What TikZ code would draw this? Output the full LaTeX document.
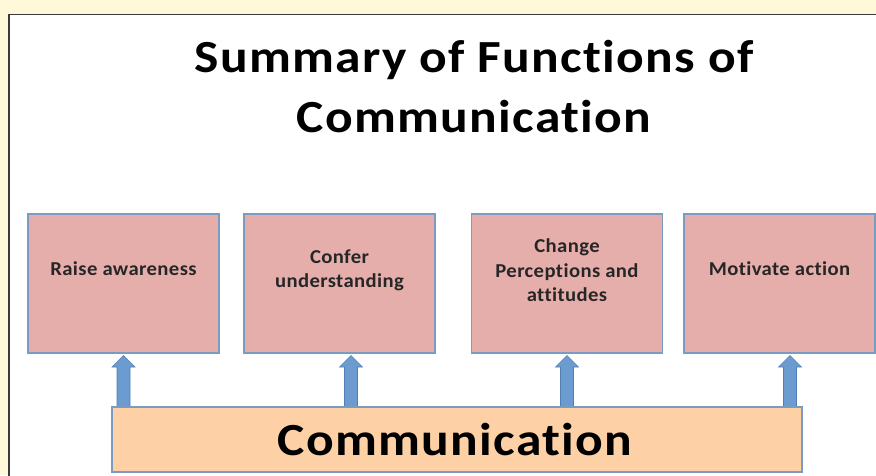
\documentclass[tikz,border=0pt]{standalone}
\usepackage{fontspec}
\setmainfont{Carlito}[Ligatures=NoCommon]
\newfontfamily\headfont{Carlito}[Ligatures=NoCommon, FakeStretch=1.12, LetterSpace=2.8]
\newfontfamily\boxfont{Carlito}[Ligatures=NoCommon, FakeStretch=1.05, LetterSpace=2]
\definecolor{pagebg}{HTML}{FFF9D9}
\definecolor{panelline}{HTML}{3A3A3A}
\definecolor{boxfill}{HTML}{E6AEAB}
\definecolor{boxline}{HTML}{7A9CC2}
\definecolor{basefill}{HTML}{FDD0A6}
\definecolor{arrowfill}{HTML}{6B9BCF}
\definecolor{arrowline}{HTML}{4F7FB5}
\definecolor{textdark}{HTML}{262626}
\tikzset{
  func/.style={draw=boxline, line width=1.2pt, fill=boxfill, minimum width=191pt,
    minimum height=139pt, inner sep=0pt},
  funclabel/.style={font=\boxfont\fontsize{19.7}{24.5}\selectfont\bfseries, text=textdark,
    align=center, anchor=center},
  headline/.style={font=\headfont\fontsize{46}{60}\selectfont\bfseries, text=black,
    anchor=base, inner sep=0pt},
  base/.style={draw=boxline, line width=1.2pt, fill=basefill, minimum width=690pt,
    minimum height=65pt, inner sep=0pt}
}
\newcommand{\blockarrow}[2]{%
  % block arrow pointing up; #1 = centre x, #2 = base y
  \fill[arrowfill] (#1-6.5,#2) -- (#1-6.5,367) -- (#1-11.5,367) -- (#1,355.5)
    -- (#1+11.5,367) -- (#1+6.5,367) -- (#1+6.5,#2) -- cycle;
  \draw[arrowline,line width=0.6pt] (#1-6.5,#2) -- (#1-6.5,367) -- (#1-11.5,367) -- (#1,355.5)
    -- (#1+11.5,367) -- (#1+6.5,367) -- (#1+6.5,#2);
}
\begin{document}
\begin{tikzpicture}[x=1pt,y=-1pt]
  % page and panel
  \fill[pagebg] (0,0) rectangle (876,475);
  \useasboundingbox (0,0) rectangle (876,475);
  \fill[white] (9,14.5) rectangle (880,480);
  \draw[panelline,line width=1.6pt] (9,480) -- (9,14.5) -- (880,14.5);

  % title, two lines
  \node[headline] (title1) at (474,72) {Summary of Functions of};
  \node[headline] (title2) at (474,132) {Communication};

  % function boxes
  \node[func] (f1) at (123.5,283.5) {};
  \node[func] (f2) at (339.5,283.5) {};
  \node[func] (f3) at (567,283.5) {};
  \node[func] (f4) at (779.5,283.5) {};
  \node[funclabel] (l1) at (123.5,269) {Raise awareness};
  \node[funclabel] (l2) at (339.5,270.5) {Confer\\understanding};
  \node[funclabel] (l3) at (567,270.5) {Change\\Perceptions and\\attitudes};
  \node[funclabel] (l4) at (779.5,269) {Motivate action};

  % arrows from base to boxes
  \foreach \ax in {123.5,351,567,790} {
    \blockarrow{\ax}{408}
  }

  % base box
  \node[base] (comm) at (457,439.5) {};
  \node[headline] (commlabel) at (455,455) {Communication};
\end{tikzpicture}
\end{document}
